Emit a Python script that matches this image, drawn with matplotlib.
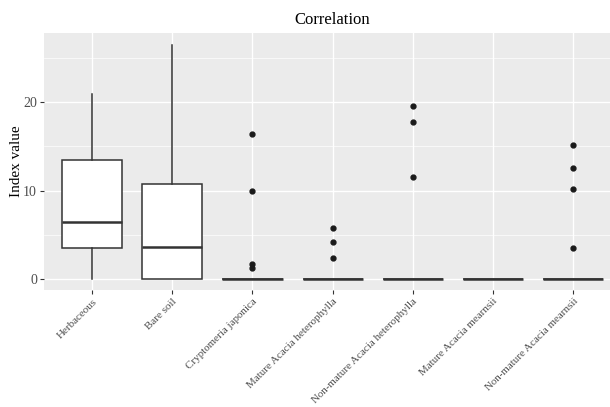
import matplotlib
matplotlib.use("Agg")
import matplotlib.pyplot as plt
from matplotlib.ticker import MultipleLocator

categories = ["Herbaceous", "Bare soil", "Cryptomeria japonica",
              "Mature Acacia heterophylla", "Non-mature Acacia heterophylla",
              "Mature Acacia mearnsii", "Non-mature Acacia mearnsii"]
whisker_low = [0, 0, 0, 0, 0, 0, 0]
q1 = [3.5, 0, 0, 0, 0, 0, 0]
median = [6.5, 3.6, 0, 0, 0, 0, 0]
q3 = [13.5, 10.7, 0, 0, 0, 0, 0]
whisker_high = [20.9, 26.4, 0, 0, 0, 0, 0]
outliers = [[], [], [16.4, 10.0, 1.7, 1.2], [5.8, 4.2, 2.4],
            [19.5, 17.7, 11.5], [], [15.1, 12.6, 10.2, 3.5]]

serif = ["Liberation Serif", "DejaVu Serif"]
plt.rcParams['font.family'] = serif

fig = plt.figure(figsize=(6.10, 4.07), dpi=100)
ax = fig.add_axes([44/610, 1-290/407, 1-44/610, (290-33)/407])
ax.set_facecolor("#EBEBEB")
for s in ax.spines.values():
    s.set_visible(False)

stats = []
for i, c in enumerate(categories):
    stats.append(dict(label=c, whislo=whisker_low[i], q1=q1[i], med=median[i],
                      q3=q3[i], whishi=whisker_high[i], fliers=outliers[i]))

col = "#333333"
ax.bxp(stats, positions=range(len(categories)), widths=0.75, patch_artist=True,
       boxprops=dict(facecolor="white", edgecolor=col, linewidth=1.1),
       medianprops=dict(color=col, linewidth=1.8),
       whiskerprops=dict(color=col, linewidth=1.1),
       capprops=dict(linewidth=0),
       flierprops=dict(marker="o", markerfacecolor="#1a1a1a", markeredgecolor="#1a1a1a",
                       markersize=3.5, linestyle="none"),
       zorder=3)

ax.set_xlim(-0.6, 6.46)
ax.set_ylim(-1.24, 27.8)
ax.yaxis.set_major_locator(MultipleLocator(10))
ax.yaxis.set_minor_locator(MultipleLocator(5))
ax.grid(which="major", color="white", linewidth=1.0, zorder=0)
ax.grid(which="minor", axis="y", color="white", linewidth=0.5, zorder=0)
ax.set_axisbelow(True)
ax.tick_params(axis="both", which="major", color="#333333", length=3, width=0.8,
               labelcolor="#4D4D4D")
ax.tick_params(axis="y", which="minor", length=0)
ax.tick_params(axis="y", labelsize=10, pad=2)
ax.set_xticks(range(len(categories)))
ax.set_xticklabels(categories, rotation=45, ha="right", va="top",
                   rotation_mode="anchor", fontsize=7.9)
ax.tick_params(axis="x", pad=2)

ax.set_ylabel("Index value", fontsize=11, color="black")
ax.yaxis.set_label_coords(-(44-23)/566, 0.5)
fig.text(332/610, 1-20/407, "Correlation", ha="center", va="center", fontsize=12)

fig.savefig("out.png", dpi=100)
